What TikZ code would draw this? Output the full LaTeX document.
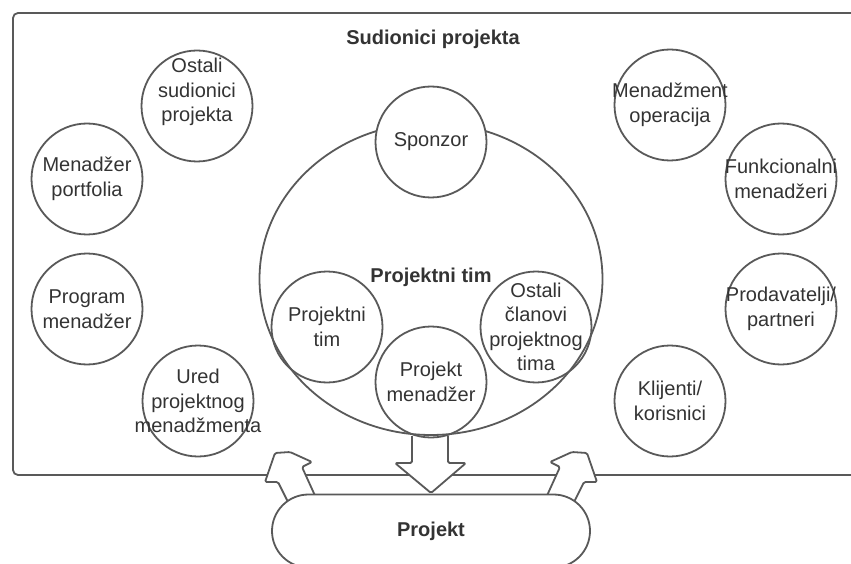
\documentclass[tikz,border=0pt]{standalone}
\usepackage{fontspec}
\setmainfont{Liberation Sans}
\usepackage{xcolor}
\usetikzlibrary{shapes.geometric, shapes.misc}
\definecolor{linegray}{HTML}{595959}
\definecolor{textgray}{HTML}{333333}
\tikzstyle{frame} = [draw=linegray, line width=1.8pt, rounded corners=5pt]
\tikzstyle{stakeholder} = [circle, minimum size=111pt, inner sep=0pt, draw=linegray, line width=1.8pt]
\tikzstyle{stext} = [align=center, inner sep=0pt, text=textgray, font=\fontsize{20}{24.5}\selectfont]
\tikzstyle{title} = [anchor=base, inner sep=0pt, text=textgray, font=\bfseries\fontsize{20}{24}\selectfont]
\tikzstyle{teamellipse} = [ellipse, minimum width=343pt, minimum height=312pt, inner sep=0pt, draw=linegray, line width=1.8pt]
\tikzstyle{projectbox} = [rounded rectangle, minimum width=318pt, minimum height=73pt, inner sep=0pt, draw=linegray, line width=1.8pt, fill=white, text=textgray, font=\bfseries\fontsize{20}{24}\selectfont]
\tikzstyle{blockarrow} = [draw=linegray, line width=1.8pt, fill=white, rounded corners=1.5pt, line join=round]

\begin{document}
\begin{tikzpicture}[x=1pt, y=-1pt]
\useasboundingbox (0,0) rectangle (851,564);
\clip (0,0) rectangle (851,564);

% Stakeholder frame
\draw [frame] (13,13) rectangle (890,475);
\node (sudionici-title) [title] at (433,45) {Sudionici projekta};

% Block arrows
\draw [blockarrow] (412,436) -- (412,463) -- (395,463) -- (431,493) -- (466,463) -- (448,463) -- (448,436);
\draw [blockarrow] (292,510) -- (278,482) -- (265,482) -- (275,453) -- (290,452) -- (312,462) -- (302,467) -- (317,500);
\draw [blockarrow] (570,510) -- (584,482) -- (597,482) -- (587,453) -- (572,452) -- (550,462) -- (560,467) -- (545,500);

% Project
\node (projekt) [projectbox] at (431,531) {Projekt};

% Project team
\node (team) [teamellipse] at (431,279) {};
\node (team-title) [title] at (431,282) {Projektni tim};

\node (sponzor) [stakeholder, fill=white] at (431,142) {};
\node (sponzor-text) [stext] at (sponzor) {Sponzor};

\node (team-members) [stakeholder] at (327,327) {};
\node (team-members-text) [stext] at (team-members) {Projektni\\tim};

\node (pm) [stakeholder] at (431,382) {};
\node (pm-text) [stext] at (pm) {Projekt\\menadžer};

\node (other-members) [stakeholder] at (536,327) {};
\node (other-members-text) [stext] at (other-members) {Ostali\\članovi\\projektnog\\tima};

% Left side stakeholders
\node (other-stake) [stakeholder] at (197,106) {};
\node (other-stake-text) [stext, yshift=14pt] at (other-stake) {Ostali\\sudionici\\projekta};

\node (portfolio) [stakeholder] at (87,179) {};
\node (portfolio-text) [stext] at (portfolio) {Menadžer\\portfolia};

\node (program) [stakeholder] at (87,309) {};
\node (program-text) [stext] at (program) {Program\\menadžer};

\node (pmo) [stakeholder] at (198,401) {};
\node (pmo-text) [stext] at (pmo) {Ured\\projektnog\\menadžmenta};

% Right side stakeholders
\node (operations) [stakeholder] at (670,105) {};
\node (operations-text) [stext] at (operations) {Menadžment\\operacija};

\node (functional) [stakeholder] at (781,179) {};
\node (functional-text) [stext] at (functional) {Funkcionalni\\menadžeri};

\node (vendors) [stakeholder] at (781,309) {};
\node (vendors-text) [stext] at (vendors) {Prodavatelji/\\partneri};

\node (clients) [stakeholder] at (670,401) {};
\node (clients-text) [stext] at (clients) {Klijenti/\\korisnici};

\end{tikzpicture}
\end{document}
